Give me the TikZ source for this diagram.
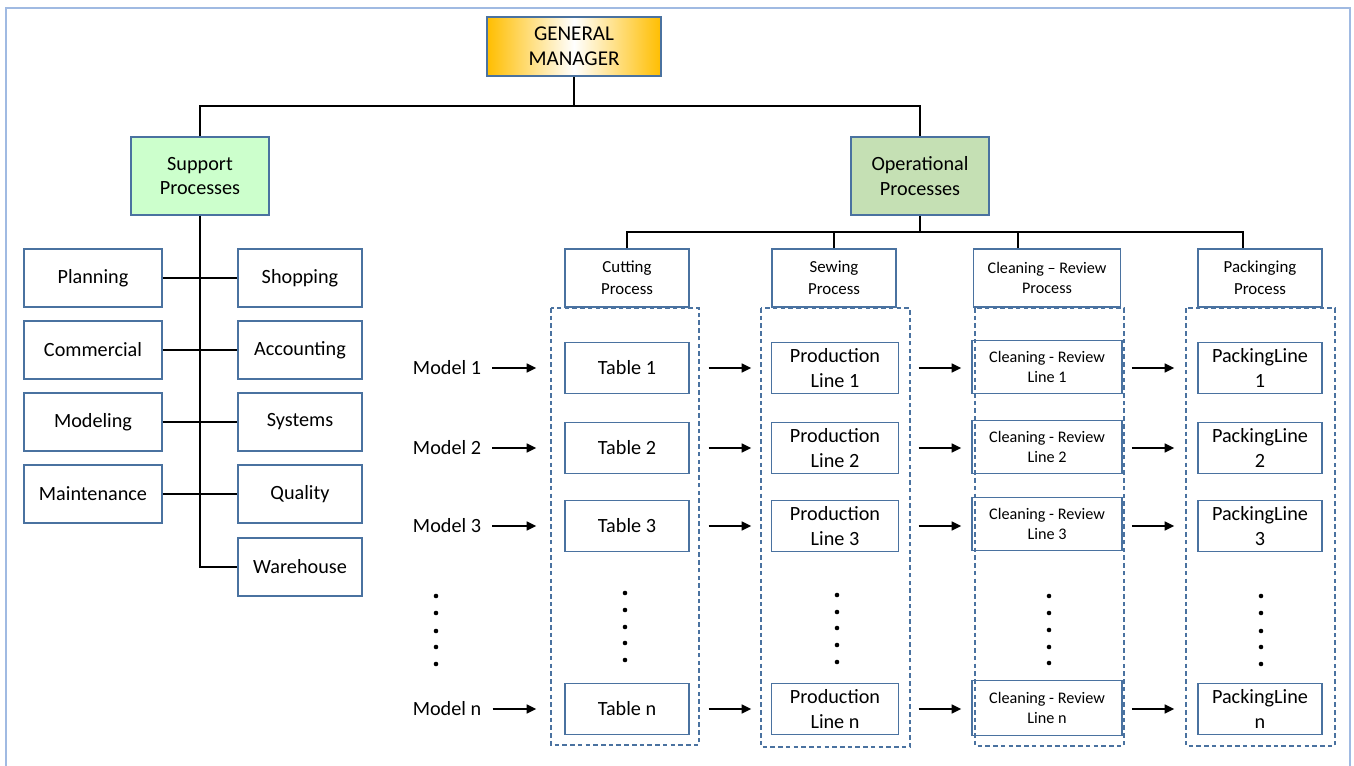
\documentclass[tikz,border=0pt]{standalone}
\usepackage{fontspec}
\setmainfont{Carlito}
\usetikzlibrary{arrows.meta}
\definecolor{frameblue}{RGB}{160, 186, 226}
\definecolor{boxblue}{RGB}{74, 114, 160}
\definecolor{gold}{RGB}{255, 190, 0}
\definecolor{mint}{RGB}{204, 255, 204}
\definecolor{sage}{RGB}{197, 224, 180}
\def\wsup{2.76cm}
\def\wside{2.48cm}
\def\hside{1.16cm}
\def\hcell{1.02cm}
\def\dotr{1.3pt}
\tikzset{
  box/.style={draw=boxblue, line width=0.85pt, align=center, inner sep=1pt,
    font=\fontsize{11.5}{13.8}\selectfont},
  head/.style={box, minimum height=\hside, font=\fontsize{9.6}{12.6}\selectfont},
  cell/.style={box, minimum height=\hcell},
  lbl/.style={inner sep=0pt, font=\fontsize{11.5}{13.8}\selectfont},
  conn/.style={black, line width=1.2pt},
  trunk/.style={black, line width=1.6pt},
  flow/.style={black, line width=1.2pt, -{Triangle[length=5.5pt, width=5pt]}},
  lane/.style={draw=boxblue, line width=0.8pt, dash pattern=on 2.6pt off 1.8pt}
}
\begin{document}
\begin{tikzpicture}[x=0.02cm, y=-0.02cm]

                 \useasboundingbox (0, 0) rectangle (1354, 766);
                 \draw[frameblue, line width=1.1pt] (6, 766) -- (6, 8) -- (1350, 8) -- (1350, 766);

                 % top of the chart
                 \node[box, minimum width=3.48cm, minimum height=1.18cm, left color=gold,
                   right color=gold, middle color=white, font=\fontsize{12}{14.4}\selectfont]
                   (gm) at (574, 46.5) {GENERAL\\MANAGER};
                 \node[box, fill=mint, minimum width=\wsup, minimum height=1.56cm]
                   (sup) at (200, 176) {Support\\Processes};
                 \node[box, fill=sage, minimum width=\wsup, minimum height=1.56cm]
                   (ops) at (920, 176) {Operational\\Processes};

                 \coordinate (gmbus) at (574, 106);
                 \coordinate (opbus) at (920, 232);
                 \draw[conn] (gm.south) -- (gmbus);
                 \draw[conn] (sup.north) |- (gmbus) -| (ops.north);

                 % support processes
                 \node[box, minimum width=\wsup, minimum height=\hside] (plan) at (93, 278) {Planning};
                 \node[box, minimum width=\wsup, minimum height=\hside] (comm) at (93, 350) {Commercial};
                 \node[box, minimum width=\wsup, minimum height=\hside] (model) at (93, 422) {Modeling};
                 \node[box, minimum width=\wsup, minimum height=\hside] (maint) at (93, 494) {Maintenance};
                 \node[box, minimum width=\wside, minimum height=\hside] (shop) at (300, 278) {Shopping};
                 \node[box, minimum width=\wside, minimum height=\hside] (acc) at (300, 350) {Accounting};
                 \node[box, minimum width=\wside, minimum height=\hside] (sys) at (300, 422) {Systems};
                 \node[box, minimum width=\wside, minimum height=\hside] (qual) at (300, 494) {Quality};
                 \node[box, minimum width=\wside, minimum height=\hside] (ware) at (300, 567) {Warehouse};

                 \draw[trunk] (sup.south) |- (ware.west);
                 \draw[conn] (plan.east) -- (shop.west);
                 \draw[conn] (comm.east) -- (acc.west);
                 \draw[conn] (model.east) -- (sys.west);
                 \draw[conn] (maint.east) -- (qual.west);

                 % operational processes
                 \node[head, minimum width=\wside] (cut) at (627, 278) {Cutting\\Process};
                 \node[head, minimum width=\wside] (sew) at (834, 278) {Sewing\\Process};
                 \node[head, minimum width=2.94cm, font=\fontsize{9.2}{11.6}\selectfont]
                   (clean) at (1047, 278) {Cleaning -- Review\\Process};
                 \node[head, minimum width=\wside] (pack) at (1260, 278) {Packinging\\Process};

                 \draw[trunk] (ops.south) -- (opbus);
                 \draw[trunk] (cut.north) |- (opbus) -| ([xshift=-0.34cm]pack.north);
                 \draw[conn] (sew.north) -- (sew.north |- opbus);
                 \draw[conn] ([xshift=-0.58cm]clean.north) -- ([xshift=-0.58cm]clean.north |- opbus);

                 \draw[lane] (551, 308) rectangle (699, 745);
                 \draw[lane] (761, 308) rectangle (910, 747);
                 \draw[lane] (975, 308) rectangle (1124, 746);
                 \draw[lane] (1186, 308) rectangle (1335, 746);

                 % rows
                 \node[lbl] (m1) at (447, 368) {Model 1};
                 \node[lbl] (m2) at (447, 448) {Model 2};
                 \node[lbl] (m3) at (447, 526) {Model 3};
                 \node[lbl] (mn) at (447, 709) {Model n};

                 \node[cell, minimum width=\wside] (t1) at (627, 368) {Table 1};
                 \node[cell, minimum width=\wside] (t2) at (627, 448) {Table 2};
                 \node[cell, minimum width=\wside] (t3) at (627, 526) {Table 3};
                 \node[cell, minimum width=\wside] (tn) at (627, 709) {Table n};

                 \node[cell, minimum width=2.54cm] (p1) at (835, 368) {Production\\Line 1};
                 \node[cell, minimum width=2.54cm] (p2) at (835, 448) {Production\\Line 2};
                 \node[cell, minimum width=2.54cm] (p3) at (835, 526) {Production\\Line 3};
                 \node[cell, minimum width=2.54cm] (pn) at (835, 709) {Production\\Line n};

                 \node[cell, minimum width=3cm, minimum height=1.06cm, font=\fontsize{9.2}{11.6}\selectfont]
                   (c1) at (1047, 367) {Cleaning - Review\\Line 1};
                 \node[cell, minimum width=3cm, minimum height=1.06cm, font=\fontsize{9.2}{11.6}\selectfont]
                   (c2) at (1047, 447) {Cleaning - Review\\Line 2};
                 \node[cell, minimum width=3cm, minimum height=1.06cm, font=\fontsize{9.2}{11.6}\selectfont]
                   (c3) at (1047, 524) {Cleaning - Review\\Line 3};
                 \node[cell, minimum width=3cm, minimum height=1.1cm, font=\fontsize{9.2}{11.6}\selectfont]
                   (cn) at (1047, 708) {Cleaning - Review\\Line n};

                 \node[cell, minimum width=\wside] (k1) at (1260, 368) {PackingLine\\1};
                 \node[cell, minimum width=\wside] (k2) at (1260, 448) {PackingLine\\2};
                 \node[cell, minimum width=\wside] (k3) at (1260, 526) {PackingLine\\3};
                 \node[cell, minimum width=\wside] (kn) at (1260, 709) {PackingLine\\n};

                 \draw[flow, shorten <=0.22cm, shorten >=0.56cm] (m1) -- (t1);
                 \draw[flow, shorten <=0.22cm, shorten >=0.56cm] (m2) -- (t2);
                 \draw[flow, shorten <=0.22cm, shorten >=0.56cm] (m3) -- (t3);
                 \draw[flow, shorten <=0.22cm, shorten >=0.56cm] (mn) -- (tn);

                 \draw[flow, shorten <=0.38cm, shorten >=0.39cm] (t1) -- (p1);
                 \draw[flow, shorten <=0.38cm, shorten >=0.39cm] (t2) -- (p2);
                 \draw[flow, shorten <=0.38cm, shorten >=0.39cm] (t3) -- (p3);
                 \draw[flow, shorten <=0.38cm, shorten >=0.39cm] (tn) -- (pn);

                 \draw[flow, shorten <=0.39cm, shorten >=0.2cm] (p1) -- (p1 -| c1.west);
                 \draw[flow, shorten <=0.39cm, shorten >=0.2cm] (p2) -- (p2 -| c2.west);
                 \draw[flow, shorten <=0.39cm, shorten >=0.2cm] (p3) -- (p3 -| c3.west);
                 \draw[flow, shorten <=0.39cm, shorten >=0.2cm] (pn) -- (pn -| cn.west);

                 \draw[flow, shorten <=0.18cm, shorten >=0.46cm] (c1.east |- k1) -- (k1);
                 \draw[flow, shorten <=0.18cm, shorten >=0.46cm] (c2.east |- k2) -- (k2);
                 \draw[flow, shorten <=0.18cm, shorten >=0.46cm] (c3.east |- k3) -- (k3);
                 \draw[flow, shorten <=0.18cm, shorten >=0.46cm] (cn.east |- kn) -- (kn);

                 % dots
                 \fill (436, 596) circle[radius=\dotr] (436, 613) circle[radius=\dotr]
                   (436, 631) circle[radius=\dotr] (436, 647) circle[radius=\dotr]
                   (436, 664) circle[radius=\dotr];
                 \fill (625, 593) circle[radius=\dotr] (625, 610) circle[radius=\dotr]
                   (625, 627) circle[radius=\dotr] (625, 643) circle[radius=\dotr]
                   (625, 660) circle[radius=\dotr];
                 \fill (837, 595) circle[radius=\dotr] (837, 612) circle[radius=\dotr]
                   (837, 628) circle[radius=\dotr] (837, 645) circle[radius=\dotr]
                   (837, 662) circle[radius=\dotr];
                 \fill (1049, 596) circle[radius=\dotr] (1049, 613) circle[radius=\dotr]
                   (1049, 630) circle[radius=\dotr] (1049, 647) circle[radius=\dotr]
                   (1049, 663) circle[radius=\dotr];
                 \fill (1261, 596) circle[radius=\dotr] (1261, 613) circle[radius=\dotr]
                   (1261, 631) circle[radius=\dotr] (1261, 647) circle[radius=\dotr]
                   (1261, 664) circle[radius=\dotr];

             \end{tikzpicture}
\end{document}
